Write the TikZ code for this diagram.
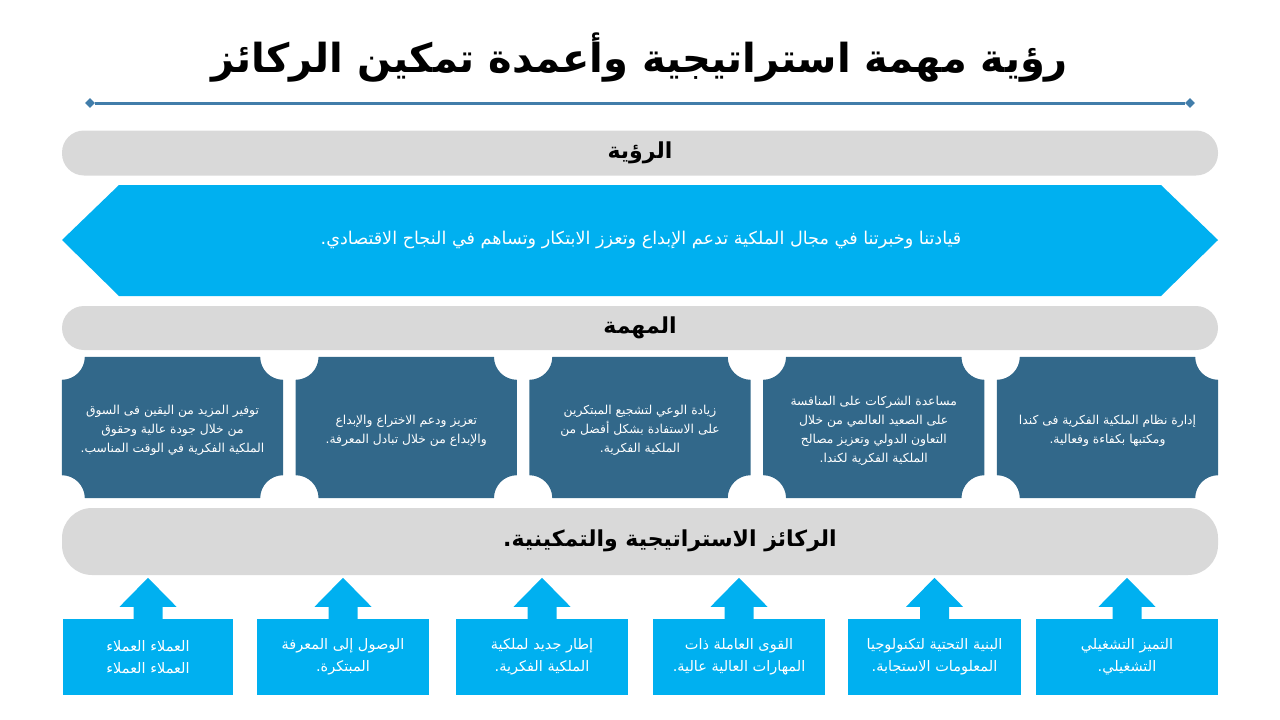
\documentclass[tikz,border=0pt]{standalone}
\usepackage{fontspec}
\usetikzlibrary{shapes.geometric,calc}
\TeXXeTstate=1
\newfontfamily\arabicfont[Script=Arabic]{DejaVu Sans}
\newcommand\ar[1]{\beginR #1\endR}
\definecolor{lb}{RGB}{0,176,240}
\definecolor{db}{RGB}{50,104,138}
\definecolor{pg}{RGB}{217,217,217}
\definecolor{ln}{RGB}{65,125,170}
\newcommand\notchbox[1]{%
  \fill[db] ($(#1.north west)+(23,0)$) -- ($(#1.north east)+(-23,0)$)
    arc[start angle=180, end angle=90, radius=23]
    -- ($(#1.south east)+(0,-23)$)
    arc[start angle=270, end angle=180, radius=23]
    -- ($(#1.south west)+(23,0)$)
    arc[start angle=0, end angle=-90, radius=23]
    -- ($(#1.north west)+(0,23)$)
    arc[start angle=90, end angle=0, radius=23] -- cycle;}
\begin{document}
\begin{tikzpicture}[x=1pt,y=-1pt,
  pill/.style={fill=pg, rounded corners=22pt, minimum width=1156pt, inner sep=0pt,
    font=\arabicfont\bfseries\fontsize{22}{26}\selectfont},
  mbox/.style={minimum width=221pt, minimum height=141pt, inner sep=0pt},
  mtext/.style={text=white, align=center, inner sep=0pt,
    font=\arabicfont\fontsize{12.3}{19}\selectfont},
  bbox/.style={fill=lb, minimum height=76pt, inner sep=0pt, text=white, align=center,
    font=\arabicfont\fontsize{14.5}{22}\selectfont},
  upar/.style={fill=lb},
  dmd/.style={diamond, fill=ln, inner sep=0pt, minimum size=10pt}
]
\useasboundingbox (0,0) rectangle (1280,720);

% title
\node (title) at (640,58) {\arabicfont\bfseries\fontsize{40}{48}\selectfont\ar{رؤية مهمة استراتيجية وأعمدة تمكين الركائز}};
\node[dmd] (L) at (90,103) {};
\node[dmd] (R) at (1190,103) {};
\draw[ln, line width=3pt] (L) -- (R);

% vision
\node[pill, minimum height=45pt] (visionhead) at (640,153) {\ar{الرؤية}};
\coordinate (h1) at (62,240);
\coordinate (h2) at (119,185);
\coordinate (h3) at (1161,185);
\coordinate (h4) at (1218,240);
\coordinate (h5) at (1161,296);
\coordinate (h6) at (119,296);
\fill[lb] (h1) -- (h2) -- (h3) -- (h4) -- (h5) -- (h6) -- cycle;
\node[text=white, font=\arabicfont\fontsize{17.6}{20}\selectfont] (vision) at (641,240)
  {\ar{قيادتنا وخبرتنا في مجال الملكية تدعم الإبداع وتعزز الابتكار وتساهم في النجاح الاقتصادي.}};

% mission
\node[pill, minimum height=44pt] (missionhead) at (640,328) {\ar{المهمة}};
\node[mbox] (m1) at (172.5,427.5) {};
\node[mbox] (m2) at (406.25,427.5) {};
\node[mbox] (m3) at (640,427.5) {};
\node[mbox] (m4) at (873.75,427.5) {};
\node[mbox] (m5) at (1107.5,427.5) {};
\foreach \m in {m1,m2,m3,m4,m5}{\notchbox{\m}}
\node[mtext] (m1t) at ($(m1)+(0,3)$) {\ar{توفير المزيد من اليقين فى السوق}\\\ar{من خلال جودة عالية وحقوق}\\\ar{الملكية الفكرية في الوقت المناسب.}};
\node[mtext] (m2t) at ($(m2)+(0,3)$) {\ar{تعزيز ودعم الاختراع والإبداع}\\\ar{والإبداع من خلال تبادل المعرفة.}};
\node[mtext] (m3t) at ($(m3)+(0,3)$) {\ar{زيادة الوعي لتشجيع المبتكرين}\\\ar{على الاستفادة بشكل أفضل من}\\\ar{الملكية الفكرية.}};
\node[mtext] (m4t) at ($(m4)+(0,3)$) {\ar{مساعدة الشركات على المنافسة}\\\ar{على الصعيد العالمي من خلال}\\\ar{التعاون الدولي وتعزيز مصالح}\\\ar{الملكية الفكرية لكندا.}};
\node[mtext] (m5t) at ($(m5)+(0,3)$) {\ar{إدارة نظام الملكية الفكرية فى كندا}\\\ar{ومكتبها بكفاءة وفعالية.}};

% pillars
\node[pill, minimum height=67pt, rounded corners=30pt] (pillhead) at (640,541.5) {};
\node[font=\arabicfont\bfseries\fontsize{22}{26}\selectfont] (pilltext) at (670,541) {\ar{الركائز الاستراتيجية والتمكينية.}};

\node[bbox, minimum width=170pt] (b1) at (148,657) {\ar{العملاء العملاء}\\\ar{العملاء العملاء}};
\node[bbox, minimum width=172pt] (b2) at (343,657) {\ar{الوصول إلى المعرفة}\\\ar{المبتكرة.}};
\node[bbox, minimum width=172pt] (b3) at (542,657) {\ar{إطار جديد لملكية}\\\ar{الملكية الفكرية.}};
\node[bbox, minimum width=172pt] (b4) at (739,657) {\ar{القوى العاملة ذات}\\\ar{المهارات العالية عالية.}};
\node[bbox, minimum width=173pt] (b5) at (934.5,657) {\ar{البنية التحتية لتكنولوجيا}\\\ar{المعلومات الاستجابة.}};
\node[bbox, minimum width=182pt] (b6) at (1127,657) {\ar{التميز التشغيلي}\\\ar{التشغيلي.}};

\foreach \b in {b1,b2,b3,b4,b5,b6}{
  \fill[upar] (\b.north) ++(-14.5,0.5) -- ++(0,-12.5) -- ++(-14,0) -- ++(28.5,-29)
    -- ++(28.5,29) -- ++(-14,0) -- ++(0,12.5) -- cycle;
}
\end{tikzpicture}
\end{document}
